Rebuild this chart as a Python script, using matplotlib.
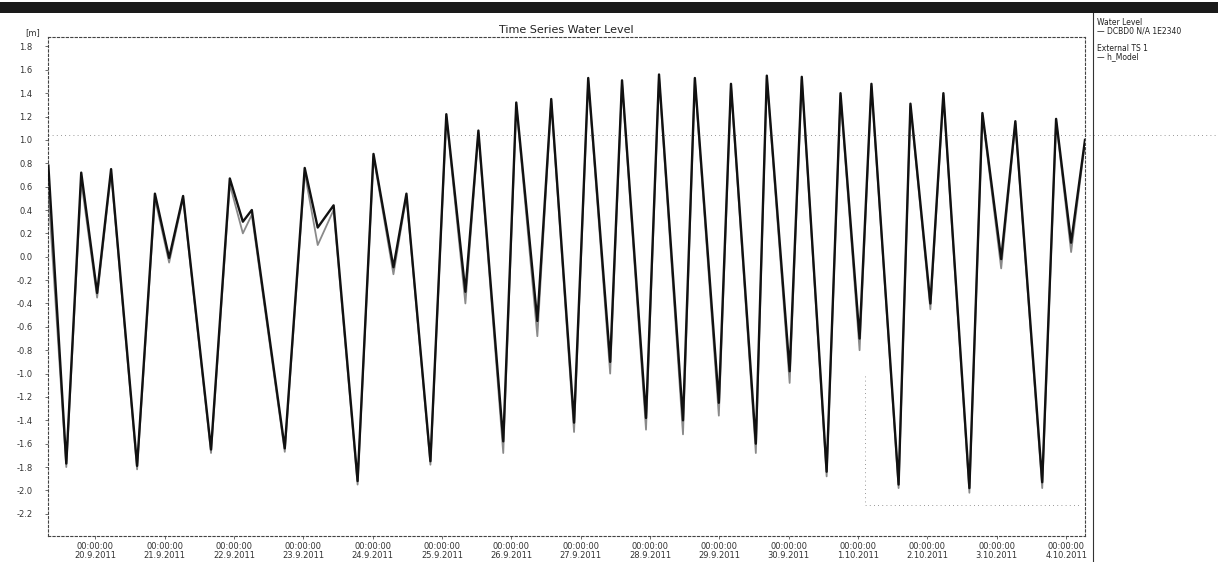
import numpy as np
import pandas as pd
import matplotlib
matplotlib.use('Agg')
import matplotlib.pyplot as plt
import matplotlib.dates as mdates
from matplotlib.patches import Rectangle

times = ['2011-09-19 07:48', '2011-09-19 14:00', '2011-09-19 19:10', '2011-09-20 00:40',
         '2011-09-20 05:30', '2011-09-20 14:30', '2011-09-20 20:40', '2011-09-21 01:35',
         '2011-09-21 06:25', '2011-09-21 16:05', '2011-09-21 22:35', '2011-09-22 03:06',
         '2011-09-22 06:12', '2011-09-22 17:36', '2011-09-23 00:30', '2011-09-23 05:00',
         '2011-09-23 10:30', '2011-09-23 18:48', '2011-09-24 00:18', '2011-09-24 07:12',
         '2011-09-24 11:42', '2011-09-24 20:00', '2011-09-25 01:30', '2011-09-25 08:06',
         '2011-09-25 12:36', '2011-09-25 21:12', '2011-09-26 01:42', '2011-09-26 09:00',
         '2011-09-26 13:48', '2011-09-26 21:42', '2011-09-27 02:36', '2011-09-27 10:12',
         '2011-09-27 14:18', '2011-09-27 22:36', '2011-09-28 03:06', '2011-09-28 11:24',
         '2011-09-28 15:30', '2011-09-28 23:48', '2011-09-29 04:00', '2011-09-29 12:36',
         '2011-09-29 16:24', '2011-09-30 00:18', '2011-09-30 04:30', '2011-09-30 13:06',
         '2011-09-30 17:54', '2011-10-01 00:30', '2011-10-01 04:36', '2011-10-01 14:00',
         '2011-10-01 18:06', '2011-10-02 01:00', '2011-10-02 05:30', '2011-10-02 14:30',
         '2011-10-02 19:00', '2011-10-03 01:30', '2011-10-03 06:24', '2011-10-03 15:42',
         '2011-10-03 20:30', '2011-10-04 01:42', '2011-10-04 06:30']

water_level = [0.78, -1.77, 0.72, -0.31, 0.75, -1.79, 0.54, -0.01,
               0.52, -1.65, 0.67, 0.30, 0.40, -1.64, 0.76, 0.25,
               0.44, -1.92, 0.88, -0.09, 0.54, -1.75, 1.22, -0.30,
               1.08, -1.58, 1.32, -0.55, 1.35, -1.42, 1.53, -0.90,
               1.51, -1.38, 1.56, -1.40, 1.53, -1.25, 1.48, -1.60,
               1.55, -0.98, 1.54, -1.84, 1.40, -0.70, 1.48, -1.95,
               1.31, -0.40, 1.40, -1.98, 1.23, -0.02, 1.16, -1.93,
               1.18, 0.12, 1.00]

external_ts = [0.55, -1.80, 0.65, -0.35, 0.72, -1.82, 0.50, -0.05,
               0.50, -1.68, 0.62, 0.20, 0.36, -1.67, 0.72, 0.10,
               0.40, -1.95, 0.86, -0.15, 0.52, -1.78, 1.20, -0.40,
               1.06, -1.68, 1.30, -0.68, 1.33, -1.50, 1.51, -1.00,
               1.49, -1.48, 1.54, -1.52, 1.51, -1.36, 1.46, -1.68,
               1.53, -1.08, 1.52, -1.88, 1.38, -0.80, 1.46, -1.98,
               1.29, -0.45, 1.38, -2.02, 1.21, -0.10, 1.14, -1.98,
               1.16, 0.04, 0.98]

day_ticks = pd.date_range('2011-09-20', '2011-10-04', freq='D')
y_ticks = np.round(np.arange(-2.2, 1.81, 0.2), 1)

t = pd.to_datetime(times)

fig = plt.figure(figsize=(12.18, 5.62), dpi=100)
ax = fig.add_axes([0.0394, 0.0463, 0.8514, 0.8877])

ax.plot(t, external_ts, color='#8a8a8a', lw=1.3, zorder=2)
ax.plot(t, water_level, color='#111111', lw=1.7, zorder=3)

ax.set_xlim(pd.Timestamp('2011-09-19 07:40'), pd.Timestamp('2011-10-04 06:30'))
ax.set_ylim(-2.39, 1.88)

ax.set_yticks(y_ticks)
ax.set_yticklabels(['%.1f' % v for v in y_ticks], fontsize=6, color='#333333')
ax.set_xticks(day_ticks)
ax.set_xticklabels(['00:00:00\n%d.%d.%d' % (d.day, d.month, d.year) for d in day_ticks],
                   fontsize=6, color='#333333', linespacing=1.0)
ax.tick_params(axis='both', length=2, width=0.6, color='#555555')
ax.tick_params(axis='y', pad=9)
ax.tick_params(axis='x', pad=2)

for s in ax.spines.values():
    s.set_linestyle((0, (2, 2)))
    s.set_linewidth(0.8)
    s.set_color('#444444')

# faint dotted leftovers of the scanned grid
ax.axhline(1.04, color='#777777', lw=0.6, ls=(0, (1, 4)), zorder=1)
fig.add_artist(plt.Line2D([0.8908, 1.0], [0.76, 0.76], transform=fig.transFigure,
                          color='#777777', lw=0.6, ls=(0, (1, 4))))
ax.plot([0.788, 0.788, 0.995], [0.32, 0.063, 0.063], transform=ax.transAxes,
        color='#777777', lw=0.6, ls=(0, (1, 4)))

ax.set_title('Time Series Water Level', fontsize=8, pad=3, color='#222222')
fig.text(0.021, 0.934, '[m]', fontsize=6, color='#333333', va='bottom')

# scanned header band and legend panel
fig.patches.append(Rectangle((0, 0.976), 1, 0.02, transform=fig.transFigure,
                             facecolor='#1a1a1a', edgecolor='none'))
fig.add_artist(plt.Line2D([0.8975, 0.8975], [0.0, 0.976], transform=fig.transFigure,
                          color='#333333', lw=0.8))
fig.text(0.901, 0.955, 'Water Level', fontsize=5.5, color='#222222')
fig.text(0.901, 0.940, '\u2014 DCBD0 N/A 1E2340', fontsize=5.5, color='#222222')
fig.text(0.901, 0.910, 'External TS 1', fontsize=5.5, color='#222222')
fig.text(0.901, 0.895, '\u2014 h_Model', fontsize=5.5, color='#222222')

fig.savefig('out.png', dpi=100)
